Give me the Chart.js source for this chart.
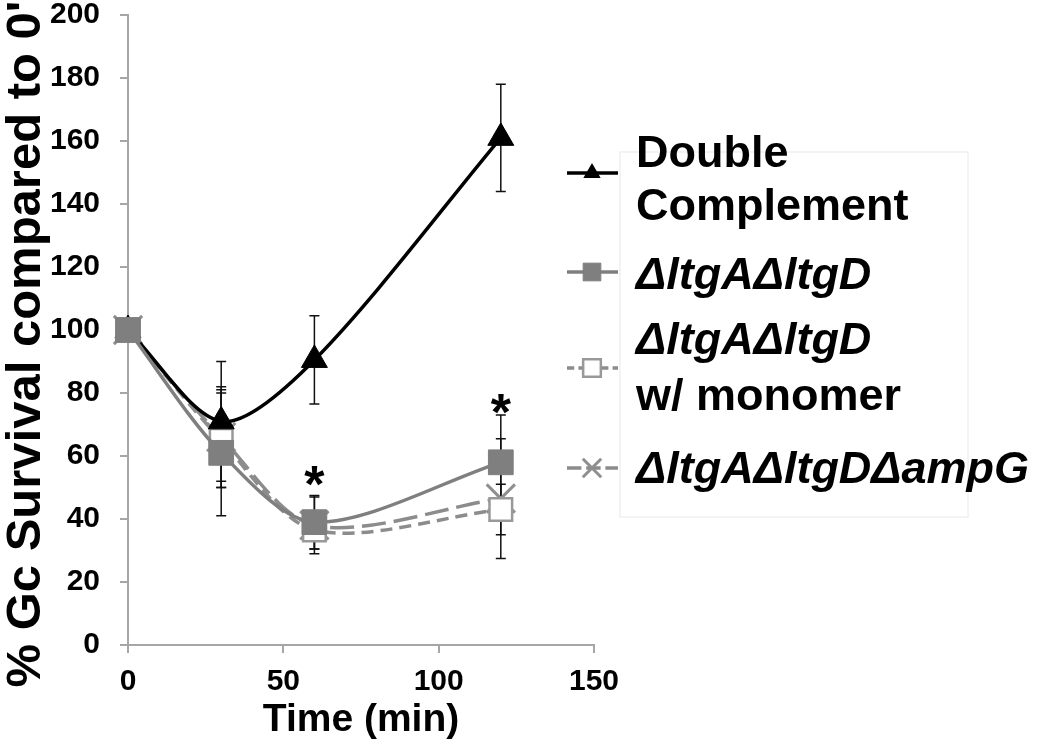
<!DOCTYPE html>
<html><head><meta charset="utf-8">
<script src="https://cdn.jsdelivr.net/npm/chart.js@4.4.0/dist/chart.umd.min.js"></script>
<style>html,body{margin:0;padding:0;background:#fff;} canvas{display:block;}</style>
</head><body>
<canvas id="c" width="1050" height="749"></canvas>
<script>
// ---- data ----
const times = [0, 30, 60, 120];
const seriesNames = ['Double Complement', 'ΔltgAΔltgD', 'ΔltgAΔltgD w/ monomer', 'ΔltgAΔltgDΔampG'];
const doubleComplement = [100, 71, 90.5, 161];
const doubleComplementErr = [0, 19, 14, 17];
const ltgAltgD = [100, 61, 39, 58];
const ltgAltgDErr = [0, 20, 8.5, 15];
const monomer = [100, 65, 36.5, 43];
const monomerErr = [0, 15, 6, 8];
const ampG = [100, 66, 38, 46.5];
const ampGErr = [0, 16, 9, 19];
const starTimes = [60, 120];
const starValues = [53.5, 76.5];
const xTicks = [0, 50, 100, 150];
const yTicks = [0, 20, 40, 60, 80, 100, 120, 140, 160, 180, 200];
const xTitle = 'Time (min)';
const yTitle = "% Gc Survival compared to 0'";

const FONT = "'Liberation Sans', Arial, sans-serif";
const GRAY = '#7f7f7f';
const DGRAY = '#8c8c8c';
const AXIS = '#a6a6a6';

function pts(vals) { return times.map((t, i) => ({x: t, y: vals[i]})); }
const errs = [doubleComplementErr, ltgAltgDErr, monomerErr, ampGErr];

const datasets = [
  {label: seriesNames[0], data: pts(doubleComplement), borderColor: '#000', backgroundColor: '#000',
   borderWidth: 3.5, pointStyle: 'triangle', pointRadius: 15, pointBorderWidth: 1, order: 1, clip: false},
  {label: seriesNames[1], data: pts(ltgAltgD), borderColor: GRAY, backgroundColor: GRAY,
   pointBackgroundColor: GRAY, pointBorderColor: GRAY,
   borderWidth: 3.5, pointStyle: 'rect', pointRadius: 17.5, pointBorderWidth: 1, order: 0, clip: false},
  {label: seriesNames[2], data: pts(monomer), borderColor: DGRAY, backgroundColor: '#fff',
   pointBackgroundColor: '#fff', pointBorderColor: '#999',
   borderWidth: 3.5, borderDash: [12, 7], pointStyle: 'rect', pointRadius: 16, pointBorderWidth: 2.5, order: 2, clip: false},
  {label: seriesNames[3], data: pts(ampG), borderColor: DGRAY, backgroundColor: '#999',
   pointBorderColor: '#8f8f8f',
   borderWidth: 3.5, borderDash: [24, 8], pointStyle: 'crossRot', pointRadius: 20, pointBorderWidth: 3, order: 3, clip: false}
];

// ---- layout-only legend spec ----
const legendRows = [
  {ds: 0, symY: 173, lines: [{t: 'Double', it: false, y: 167}, {t: 'Complement', it: false, y: 220}]},
  {ds: 1, symY: 272, lines: [{t: 'ΔltgAΔltgD', it: true, y: 289}]},
  {ds: 2, symY: 368, lines: [{t: 'ΔltgAΔltgD', it: true, y: 354}, {t: 'w/ monomer', it: false, y: 410}]},
  {ds: 3, symY: 468, lines: [{t: 'ΔltgAΔltgDΔampG', it: true, y: 483}]}
];

function drawMarker(ctx, style, x, y, r, fill, stroke, lw) {
  ctx.save();
  ctx.setLineDash([]);
  ctx.beginPath();
  if (style === 'triangle') {
    ctx.moveTo(x, y - r); ctx.lineTo(x + r * 0.866, y + r * 0.5); ctx.lineTo(x - r * 0.866, y + r * 0.5); ctx.closePath();
    ctx.fillStyle = fill; ctx.fill();
  } else if (style === 'rect') {
    const s = r * Math.SQRT1_2;
    ctx.rect(x - s, y - s, 2 * s, 2 * s);
    ctx.fillStyle = fill; ctx.fill();
    ctx.lineWidth = lw; ctx.strokeStyle = stroke; ctx.stroke();
  } else if (style === 'crossRot') {
    const s = r * Math.SQRT1_2;
    ctx.moveTo(x - s, y - s); ctx.lineTo(x + s, y + s);
    ctx.moveTo(x - s, y + s); ctx.lineTo(x + s, y - s);
    ctx.lineWidth = lw; ctx.strokeStyle = stroke; ctx.stroke();
  }
  ctx.restore();
}

const extras = {
  id: 'extras',
  beforeDatasetsDraw(chart) {
    const ctx = chart.ctx, xs = chart.scales.x, ys = chart.scales.y;
    ctx.save();
    ctx.strokeStyle = '#111';
    ctx.lineWidth = 1.5;
    chart.data.datasets.forEach((ds, di) => {
      ds.data.forEach((p, i) => {
        const e = errs[di][i];
        if (!e) return;
        const px = xs.getPixelForValue(p.x);
        const top = ys.getPixelForValue(p.y + e), bot = ys.getPixelForValue(p.y - e);
        ctx.beginPath();
        ctx.moveTo(px, top); ctx.lineTo(px, bot);
        ctx.moveTo(px - 5, top); ctx.lineTo(px + 5, top);
        ctx.moveTo(px - 5, bot); ctx.lineTo(px + 5, bot);
        ctx.stroke();
      });
    });
    ctx.restore();
  },
  afterDraw(chart) {
    const ctx = chart.ctx, xs = chart.scales.x, ys = chart.scales.y;
    ctx.save();
    // y-axis title (rotated), positioned beside the y scale
    ctx.save();
    ctx.translate(ys.left + 26, 344);
    ctx.rotate(-Math.PI / 2);
    ctx.font = 'bold 49px ' + FONT;
    ctx.fillStyle = '#000';
    ctx.textAlign = 'center';
    ctx.textBaseline = 'middle';
    ctx.fillText(yTitle, 0, 0);
    ctx.restore();
    // asterisks
    ctx.fillStyle = '#000';
    ctx.font = 'bold 52px ' + FONT;
    ctx.textAlign = 'center';
    ctx.textBaseline = 'alphabetic';
    starTimes.forEach((t, i) => {
      const m = ctx.measureText('*');
      const px = xs.getPixelForValue(t), py = ys.getPixelForValue(starValues[i]);
      const off = (m.actualBoundingBoxAscent - m.actualBoundingBoxDescent) / 2;
      ctx.fillText('*', px, py + off);
    });
    // legend box (faint)
    ctx.strokeStyle = '#f0f0f0';
    ctx.lineWidth = 1.5;
    ctx.strokeRect(620, 152, 348, 365);
    // legend rows
    legendRows.forEach(row => {
      const ds = chart.data.datasets[row.ds];
      ctx.save();
      ctx.strokeStyle = ds.borderColor;
      ctx.lineWidth = 3.5;
      ctx.setLineDash(ds.borderDash ? ds.borderDash.map(v => v * 0.6) : []);
      ctx.beginPath();
      ctx.moveTo(567, row.symY); ctx.lineTo(618, row.symY);
      ctx.stroke();
      ctx.restore();
      const fill = ds.pointBackgroundColor || ds.backgroundColor;
      const stroke = ds.pointBorderColor || ds.borderColor;
      const r = ds.pointStyle === 'triangle' ? 10 : (ds.pointStyle === 'crossRot' ? 13 : 12.5);
      drawMarker(ctx, ds.pointStyle, 592, row.symY, r, fill, stroke, ds.pointBorderWidth);
      row.lines.forEach(l => {
        ctx.font = (l.it ? 'italic ' : '') + 'bold 45px ' + FONT;
        ctx.fillStyle = '#000';
        ctx.textAlign = 'left';
        ctx.textBaseline = 'alphabetic';
        ctx.fillText(l.t, 636, l.y);
      });
    });
    ctx.restore();
  }
};

new Chart(document.getElementById('c'), {
  type: 'line',
  data: {datasets},
  options: {
    responsive: false,
    animation: false,
    devicePixelRatio: 1,
    layout: {autoPadding: false, padding: {left: 0, top: 15, right: 456, bottom: 0}},
    elements: {line: {tension: 0.3}},
    plugins: {legend: {display: false}, tooltip: {enabled: false}},
    scales: {
      x: {
        type: 'linear', min: 0, max: 150,
        afterBuildTicks: s => { s.ticks = xTicks.map(v => ({value: v})); },
        afterFit: s => { s.height = 104; },
        ticks: {color: '#000', font: {family: FONT, size: 30, weight: 'bold', lineHeight: 1}, padding: 14, maxRotation: 0},
        grid: {drawOnChartArea: false, drawTicks: true, tickLength: 8, color: AXIS, lineWidth: 2},
        border: {color: AXIS, width: 2},
        title: {display: true, text: xTitle, color: '#000', font: {family: FONT, size: 39, weight: 'bold', lineHeight: 1}, padding: {top: 0, bottom: 9}}
      },
      y: {
        type: 'linear', min: 0, max: 200,
        afterBuildTicks: s => { s.ticks = yTicks.map(v => ({value: v})); },
        afterFit: s => { s.width = 128; s.paddingTop = 12; s.paddingBottom = 12; },
        ticks: {color: '#000', font: {family: FONT, size: 30, weight: 'bold', lineHeight: 1}, padding: 20},
        grid: {drawOnChartArea: false, drawTicks: true, tickLength: 8, color: AXIS, lineWidth: 2},
        border: {color: AXIS, width: 2},
        title: {display: false, text: yTitle}
      }
    }
  },
  plugins: [extras]
});
</script>
</body></html>
